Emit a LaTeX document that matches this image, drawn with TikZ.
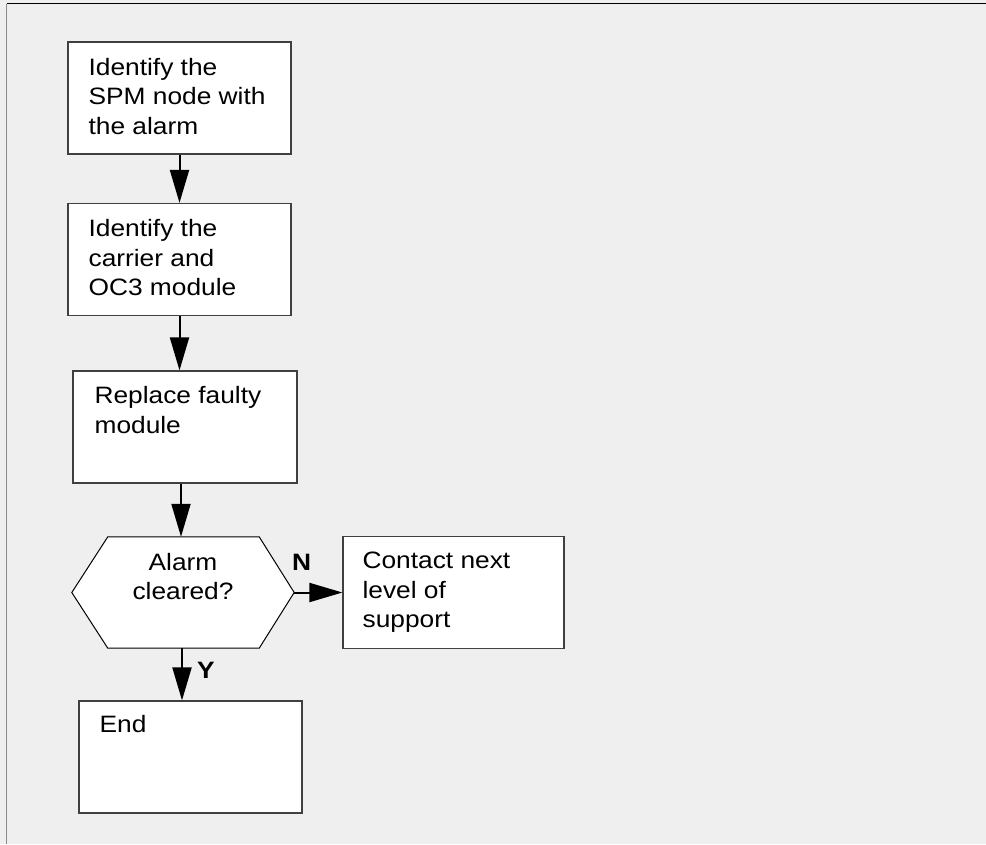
\documentclass[tikz,border=0pt]{standalone}
\usepackage{fontspec}
\setmainfont{Liberation Sans}[FakeStretch=1.11]
\usetikzlibrary{arrows.meta}

\definecolor{pagebg}{HTML}{EFEFEF}
\definecolor{boxline}{HTML}{404040}
\definecolor{frameleft}{HTML}{8A8A8A}

\tikzset{
  stepbox/.style={draw=boxline, line width=1.2pt, fill=white, inner sep=0pt,
                  minimum width=#1, minimum height=112pt},
  stepbox/.default=223pt,
  boxtext/.style={anchor=north west, inner sep=0pt, align=left,
                  font=\fontsize{23.7}{29.5}\selectfont},
  midtext/.style={anchor=north, inner sep=0pt, align=center,
                  font=\fontsize{23.7}{29.5}\selectfont},
  branch/.style={inner sep=0pt, font=\fontsize{23.7}{29.5}\selectfont\bfseries},
  arr/.style={line width=2pt, -{Triangle[length=33pt,width=19pt]}},
}

\begin{document}
\begin{tikzpicture}[x=1pt, y=-1pt]
  % page and frame
  \fill[pagebg] (0,0) rectangle (986,844);
  \useasboundingbox (0,0) rectangle (986,844);
  \draw[frameleft, line width=1.5pt] (6.5,3.5) -- (6.5,844);
  \draw[black, line width=1.5pt] (6.5,3.5) -- (986,3.5);

  % process boxes
  \node[stepbox] (b1) at (179.5,98) {};
  \node[stepbox] (b2) at (179.5,259.5) {};
  \node[stepbox=224pt] (b3) at (185,427) {};
  \node[stepbox=221pt] (contact) at (453.5,592.5) {};
  \node[stepbox] (end) at (190.5,757) {};

  % decision hexagon
  \node[inner sep=0pt, minimum width=222pt, minimum height=111pt] (hex) at (183,592.5) {};
  \draw[black, line width=1pt, fill=white]
    (hex.west) -- ([xshift=36pt]hex.north west) -- ([xshift=-35pt]hex.north east)
    -- (hex.east) -- ([xshift=-35pt]hex.south east) -- ([xshift=36pt]hex.south west)
    -- cycle;

  % texts
  \node[boxtext] (t1) at ([shift={(21,16.7)}]b1.north west) {Identify the\\SPM node with\\the alarm};
  \node[boxtext] (t2) at ([shift={(21,16.7)}]b2.north west) {Identify the\\carrier and\\OC3 module};
  \node[boxtext] (t3) at ([shift={(22,16.2)}]b3.north west) {Replace faulty\\module};
  \node[midtext] (th) at ([yshift=-16pt]hex.north) {Alarm\\cleared?};
  \node[boxtext] (tc) at ([shift={(20,16)}]contact.north west) {Contact next\\level of\\support};
  \node[boxtext] (te) at ([shift={(21,15)}]end.north west) {End};

  % connectors
  \draw[arr] (b1.south) -- (b2.north);
  \draw[arr] (b2.south) -- (b2.south |- b3.north);
  \draw[arr] ([xshift=-4pt]b3.south) -- ([xshift=-4pt]b3.south |- hex.north);
  \draw[arr] (hex.east) -- (contact.west);
  \draw[arr] ([xshift=-1pt]hex.south) -- ([xshift=-1pt]hex.south |- end.north);

  % branch labels
  \node[branch] (lblN) at (301.5,562) {N};
  \node[branch] (lblY) at (206,670) {Y};
\end{tikzpicture}
\end{document}
